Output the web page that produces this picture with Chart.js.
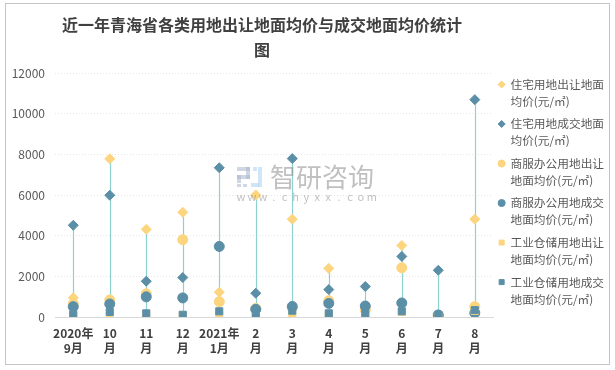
<!DOCTYPE html>
<html>
<head>
<meta charset="utf-8">
<script src="https://cdn.jsdelivr.net/npm/chart.js@4.4.0/dist/chart.umd.min.js"></script>
<style>
  html, body { margin: 0; padding: 0; background: #fff; }
  canvas { display: block; }
</style>
</head>
<body>
<canvas id="chart" width="615" height="370"></canvas>
<script>
    // 数据（单位：元/㎡）
    const months = [['2020年', '9月'], ['10', '月'], ['11', '月'], ['12', '月'], ['2021年', '1月'], ['2', '月'],
                    ['3', '月'], ['4', '月'], ['5', '月'], ['6', '月'], ['7', '月'], ['8', '月']];
    const zhuzhaiChurang  = [950, 7780, 4310, 5150, 1220, 6000, 4810, 2390, 450, 3520, 80, 4810];
    const zhuzhaiChengjiao = [4510, 5990, 1760, 1940, 7340, 1170, 7790, 1350, 1500, 2980, 2300, 10690];
    const shangfuChurang  = [650, 840, 1140, 3800, 755, 420, 450, 800, 350, 2420, 50, 510];
    const shangfuChengjiao = [510, 640, 990, 940, 3470, 380, 520, 670, 540, 690, 100, 200];
    const gongyeChurang   = [100, 200, 150, 80, 60, 30, 60, 150, 100, 250, 20, 300];
    const gongyeChengjiao = [130, 250, 180, 110, 280, 150, 310, 180, 180, 280, 110, 340];
    const yTicks = [0, 2000, 4000, 6000, 8000, 10000, 12000];

    const seriesNames = ['住宅用地出让地面均价(元/㎡)', '住宅用地成交地面均价(元/㎡)', '商服办公用地出让地面均价(元/㎡)',
                         '商服办公用地成交地面均价(元/㎡)', '工业仓储用地出让地面均价(元/㎡)', '工业仓储用地成交地面均价(元/㎡)'];
    const titleLines = ['近一年青海省各类用地出让地面均价与成交地面均价统计', '图'];

    const YELLOW = '#FCD57E';
    const BLUE = '#5B8FA8';
    const FONT = '"Noto Sans CJK SC", "Noto Sans", sans-serif';

    Chart.defaults.font.family = FONT;

    function series(i, data, color, style) {
        return {
            label: seriesNames[i],
            data: data,
            showLine: false,
            pointStyle: style,
            pointRadius: 5,
            pointHoverRadius: 5,
            pointBorderWidth: 1,
            borderWidth: 1,
            backgroundColor: color,
            borderColor: color,
            order: 5 - i
        };
    }

    // 背景边框、标题、水印
    const decor = {
        id: 'decor',
        beforeDraw(chart) {
            const ctx = chart.ctx;
            ctx.save();
            ctx.fillStyle = '#fff';
            ctx.fillRect(0, 0, chart.width, chart.height);
            ctx.strokeStyle = '#c4c4c4';
            ctx.lineWidth = 1;
            ctx.strokeRect(5.5, 3.5, 604, 361);
            ctx.fillStyle = '#404040';
            ctx.font = 'bold 16px ' + FONT;
            ctx.textAlign = 'center';
            ctx.textBaseline = 'middle';
            ctx.fillText(titleLines[0], 262, 25);
            ctx.fillText(titleLines[1], 262, 50);
            ctx.restore();
        },
        afterDatasetsDraw(chart) {
            const ctx = chart.ctx;
            ctx.save();
            ctx.globalAlpha = 0.55;
            ctx.fillStyle = '#a8b6cc';
            ctx.fillRect(237, 167, 13, 4);
            ctx.fillRect(246, 167, 4, 12);
            ctx.fillRect(237, 175, 13, 4);
            ctx.fillRect(237, 175, 4, 8);
            ctx.fillRect(237, 184, 4, 3);
            ctx.fillRect(243, 184, 4, 3);
            ctx.fillStyle = '#a9d0ee';
            ctx.fillRect(253, 167, 4, 4);
            ctx.fillRect(258, 167, 4, 20);
            ctx.fillRect(251, 183, 8, 4);
            ctx.fillStyle = '#8c8c8c';
            ctx.font = '26px ' + FONT;
            ctx.textAlign = 'left';
            ctx.textBaseline = 'middle';
            ctx.fillText('智研咨询', 270, 177);
            ctx.font = '11px ' + FONT;
            ctx.textAlign = 'center';
            const url = 'www.chyxx.com';
            for (let k = 0; k < url.length; k++) {
                ctx.fillText(url[k], 241 + k * 10.9, 197);
            }
            ctx.restore();
        }
    };

    // 高低连线
    const hiLoLines = {
        id: 'hiLoLines',
        beforeDatasetsDraw(chart) {
            const ctx = chart.ctx;
            const xs = chart.scales.x, ys = chart.scales.y;
            ctx.save();
            ctx.strokeStyle = '#8ED1CE';
            ctx.lineWidth = 1.2;
            for (let i = 0; i < months.length; i++) {
                const vals = chart.data.datasets.map(d => d.data[i]).filter(v => v != null);
                const x = Math.round(xs.getPixelForValue(i)) + 0.5;
                ctx.beginPath();
                ctx.moveTo(x, ys.getPixelForValue(Math.max(...vals)));
                ctx.lineTo(x, ys.getPixelForValue(Math.min(...vals)));
                ctx.stroke();
            }
            ctx.restore();
        }
    };

    new Chart(document.getElementById('chart'), {
        type: 'line',
        data: {
            labels: months,
            datasets: [
                series(0, zhuzhaiChurang, YELLOW, 'rectRot'),
                series(1, zhuzhaiChengjiao, BLUE, 'rectRot'),
                series(2, shangfuChurang, YELLOW, 'circle'),
                series(3, shangfuChengjiao, BLUE, 'circle'),
                series(4, gongyeChurang, YELLOW, 'rect'),
                series(5, gongyeChengjiao, BLUE, 'rect')
            ]
        },
        plugins: [decor, hiLoLines],
        options: {
            responsive: false,
            animation: false,
            devicePixelRatio: 1,
            layout: { padding: { left: 5, right: 1, top: 73, bottom: 5 } },
            plugins: {
                title: { display: false },
                tooltip: { enabled: false },
                legend: {
                    position: 'right',
                    align: 'start',
                    labels: {
                        usePointStyle: true,
                        boxWidth: 6,
                        boxHeight: 5,
                        padding: 5.6,
                        color: '#595959',
                        font: { size: 11.7, lineHeight: 1.45 },
                        generateLabels(chart) {
                            const items = Chart.defaults.plugins.legend.labels.generateLabels(chart);
                            items.sort((a, b) => a.datasetIndex - b.datasetIndex);
                            items.forEach(it => {
                                const name = seriesNames[it.datasetIndex];
                                it.text = [name.slice(0, 8), name.slice(8)];
                            });
                            return items;
                        }
                    }
                }
            },
            scales: {
                x: {
                    offset: true,
                    grid: { display: false, drawTicks: false },
                    border: { display: true, color: '#d9d9d9', width: 1 },
                    ticks: {
                        color: '#404040',
                        font: { size: 12, weight: 'bold', lineHeight: 1.25 },
                        padding: 9,
                        maxRotation: 0,
                        autoSkip: false
                    }
                },
                y: {
                    min: 0,
                    max: 12000,
                    afterFit(scale) { scale.width = 50; },
                    afterBuildTicks(scale) { scale.ticks = yTicks.map(v => ({ value: v })); },
                    grid: {
                        drawTicks: false,
                        color: ctx => ctx.tick && ctx.tick.value === 0 ? 'rgba(0,0,0,0)' : '#e6e6e6'
                    },
                    border: { display: false, dash: [1, 2] },
                    ticks: {
                        color: '#595959',
                        font: { size: 12 },
                        padding: 10,
                        callback: v => String(v)
                    }
                }
            }
        }
    });
</script>
</body>
</html>
